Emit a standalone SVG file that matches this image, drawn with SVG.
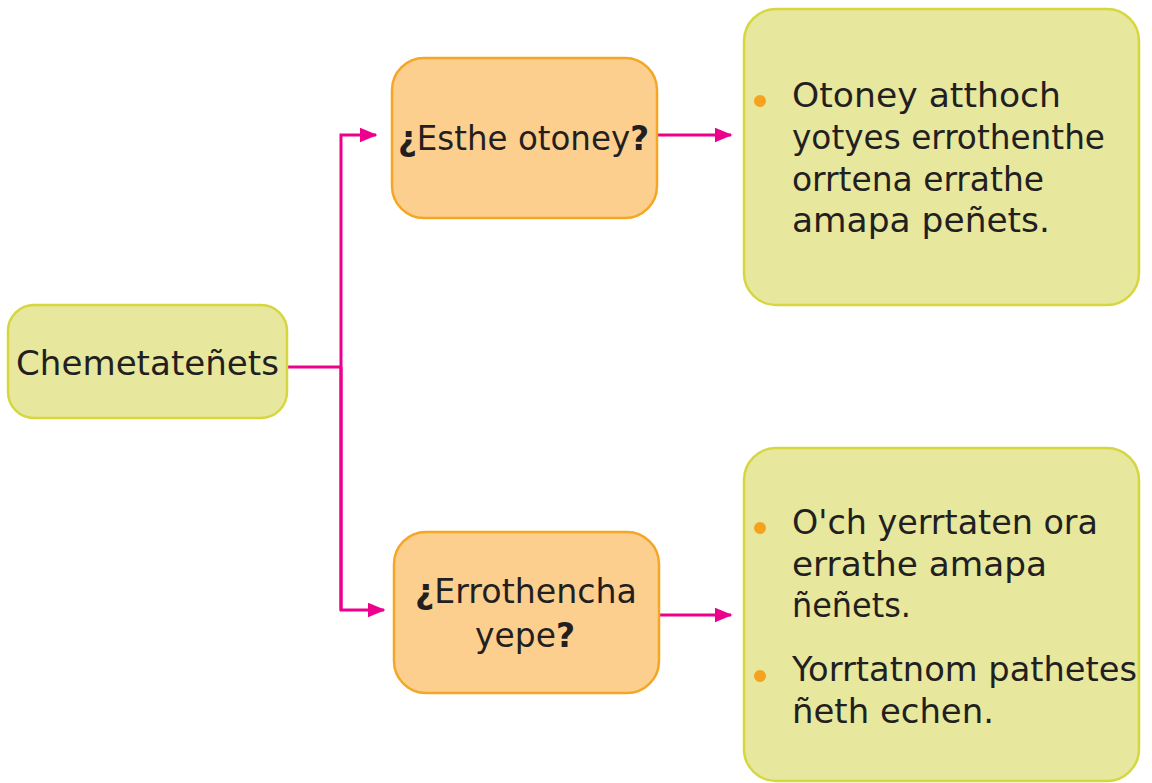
<svg xmlns="http://www.w3.org/2000/svg" width="1152" height="783" viewBox="0 0 1152 783">
  <defs>
    <style>
      .lime { fill: #e7e79d; stroke: #d6d63f; stroke-width: 2.5; }
      .peach { fill: #fccf8f; stroke: #f5a623; stroke-width: 2.5; }
      .txt { font-family: "DejaVu Sans", "Liberation Sans", sans-serif; font-size: 33px; fill: #231f20; }
      .b { font-weight: bold; }
      .dot { fill: #f5a21e; }
      .link { fill: none; stroke: #ec008c; stroke-width: 3; }
    </style>
    <marker id="arrow" viewBox="0 0 12 10" refX="11" refY="5" markerWidth="6" markerHeight="5" markerUnits="strokeWidth" orient="auto">
      <path d="M0,0 L12,5 L0,10 Z" fill="#ec008c"/>
    </marker>
  </defs>

  <rect width="1152" height="783" fill="#ffffff"/>

  <!-- connectors -->
  <g id="connectors">
    <path class="link" d="M287,367 H341"/>
    <path class="link" d="M341,610 V135 H376" marker-end="url(#arrow)"/>
    <path class="link" d="M341,367 V610 H384" marker-end="url(#arrow)"/>
    <path class="link" d="M657,135 H731" marker-end="url(#arrow)"/>
    <path class="link" d="M659,615 H731" marker-end="url(#arrow)"/>
  </g>

  <g id="root">
    <rect class="lime" x="8" y="305" width="279" height="113" rx="26"/>
    <text class="txt" x="16" y="375" textLength="263" lengthAdjust="spacingAndGlyphs">Chemetateñets</text>
  </g>

  <g id="q-what">
    <rect class="peach" x="392" y="58" width="265" height="160" rx="32"/>
    <text class="txt" x="398" y="150" textLength="251" lengthAdjust="spacingAndGlyphs"><tspan class="b">¿</tspan>Esthe otoney<tspan class="b">?</tspan></text>
  </g>

  <g id="q-why">
    <rect class="peach" x="394" y="532" width="265" height="161" rx="32"/>
    <text class="txt" x="415" y="603" textLength="222" lengthAdjust="spacingAndGlyphs"><tspan class="b">¿</tspan>Errothencha</text>
    <text class="txt" x="475" y="647" textLength="100" lengthAdjust="spacingAndGlyphs">yepe<tspan class="b">?</tspan></text>
  </g>

  <g id="a-what">
    <rect class="lime" x="744" y="9" width="395" height="296" rx="32"/>
    <circle class="dot" cx="760" cy="101" r="6"/>
    <text class="txt" x="792" y="107" textLength="269" lengthAdjust="spacingAndGlyphs">Otoney atthoch</text>
    <text class="txt" x="792" y="149" textLength="313" lengthAdjust="spacingAndGlyphs">yotyes errothenthe</text>
    <text class="txt" x="792" y="191" textLength="252" lengthAdjust="spacingAndGlyphs">orrtena errathe</text>
    <text class="txt" x="792" y="232" textLength="258" lengthAdjust="spacingAndGlyphs">amapa peñets.</text>
  </g>

  <g id="a-why">
    <rect class="lime" x="744" y="448" width="395" height="333" rx="32"/>
    <circle class="dot" cx="760" cy="528" r="6"/>
    <text class="txt" x="792" y="534" textLength="306" lengthAdjust="spacingAndGlyphs">O'ch yerrtaten ora</text>
    <text class="txt" x="792" y="576" textLength="255" lengthAdjust="spacingAndGlyphs">errathe amapa</text>
    <text class="txt" x="792" y="617" textLength="119" lengthAdjust="spacingAndGlyphs">ñeñets.</text>
    <circle class="dot" cx="760" cy="676" r="6"/>
    <text class="txt" x="792" y="681" textLength="345" lengthAdjust="spacingAndGlyphs">Yorrtatnom pathetes</text>
    <text class="txt" x="792" y="723" textLength="202" lengthAdjust="spacingAndGlyphs">ñeth echen.</text>
  </g>
</svg>
